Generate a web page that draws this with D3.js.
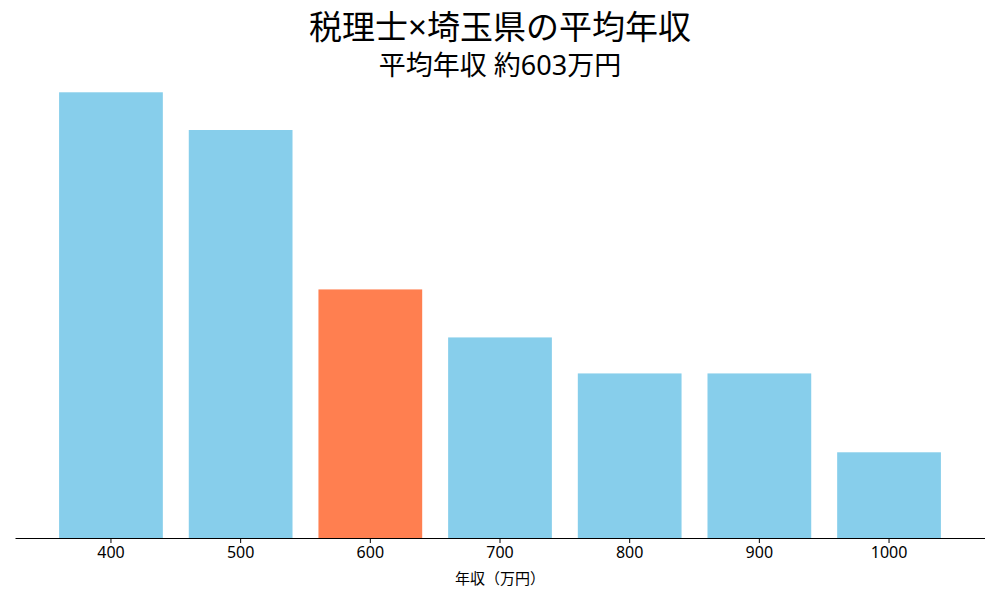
<!DOCTYPE html>
<html>
<head>
<meta charset="utf-8">
<script src="https://cdn.jsdelivr.net/npm/d3@7"></script>
<style>
  body { margin: 0; background: #fff; }
  svg { font-family: "Noto Sans", "Noto Sans CJK JP", sans-serif; }
</style>
</head>
<body>
<div id="chart"></div>
<script>
// データ
const categories = ["400", "500", "600", "700", "800", "900", "1000"]
const values = [26.0, 23.8, 14.5, 11.7, 9.6, 9.6, 5.0]
const highlight = "600"
const title = "税理士×埼玉県の平均年収"
const subtitle = "平均年収 約603万円"
const xLabel = "年収（万円）"

const anchoTotal = 1000
const altoTotal = 600
const margins = { top: 70, right: 15, bottom: 62, left: 15 }
const ancho = anchoTotal - margins.left - margins.right
const alto = altoTotal - margins.top - margins.bottom

const svg = d3.select("#chart")
  .append("svg")
  .attr("width", anchoTotal)
  .attr("height", altoTotal)

const g = svg.append("g")
  .attr("transform", `translate(${margins.left}, ${margins.top})`)

const x = d3.scaleBand()
  .domain(categories)
  .range([0, ancho])
  .paddingInner(0.2)
  .paddingOuter(0.34)

const y = d3.scaleLinear()
  .domain([0, d3.max(values) * 1.05])
  .range([alto, 0])

g.selectAll("rect")
  .data(categories)
  .enter()
  .append("rect")
  .attr("x", d => x(d))
  .attr("y", (d, i) => y(values[i]))
  .attr("width", x.bandwidth())
  .attr("height", (d, i) => alto - y(values[i]))
  .attr("fill", d => d === highlight ? "#FF7F50" : "#87CEEB")

const xAxis = d3.axisBottom(x).tickSize(5).tickPadding(4).tickSizeOuter(0)
const xAxisGroup = g.append("g")
  .attr("transform", `translate(0, ${alto})`)
  .call(xAxis)
xAxisGroup.attr("font-family", null).attr("font-size", null)
xAxisGroup.select(".domain").attr("d", `M0.5,0.5H${ancho}`).attr("stroke", "#000")
xAxisGroup.selectAll(".tick line").attr("stroke", "#000")
xAxisGroup.selectAll(".tick text")
  .attr("font-size", 16)
  .attr("fill", "#000")

g.append("text")
  .attr("x", ancho / 2)
  .attr("y", alto + 46)
  .attr("text-anchor", "middle")
  .attr("font-size", 15)
  .text(xLabel)

svg.append("text")
  .attr("x", anchoTotal / 2)
  .attr("y", 39)
  .attr("text-anchor", "middle")
  .attr("font-size", 33)
  .text(title)

svg.append("text")
  .attr("x", anchoTotal / 2)
  .attr("y", 75)
  .attr("text-anchor", "middle")
  .attr("font-size", 27)
  .text(subtitle)
</script>
</body>
</html>
